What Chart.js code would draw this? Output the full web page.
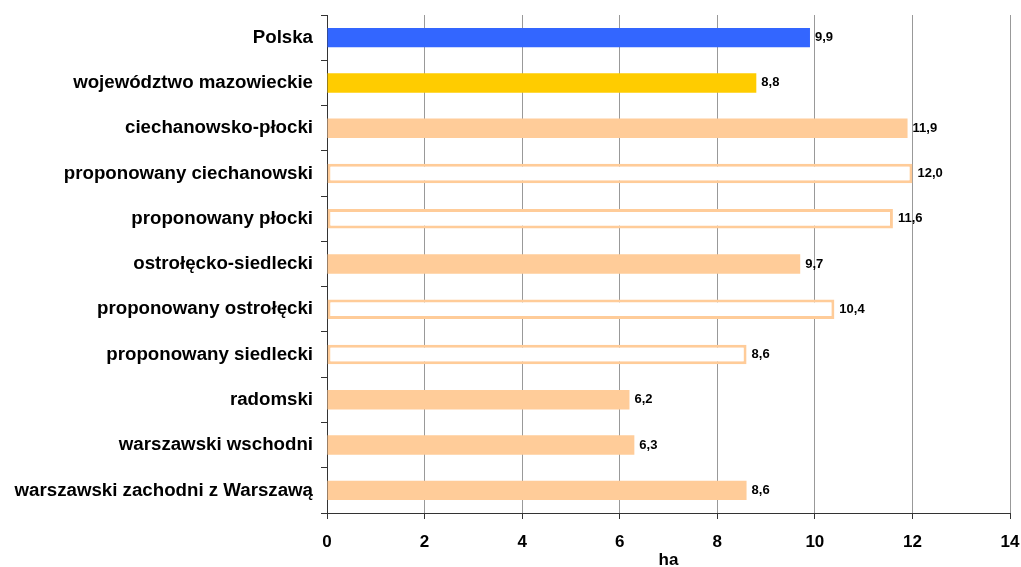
<!DOCTYPE html>
<html>
<head>
<meta charset="utf-8">
<script src="https://cdn.jsdelivr.net/npm/chart.js@4/dist/chart.umd.min.js"></script>
<style>
    html, body { margin: 0; padding: 0; background: #fff; }
    #wrap { width: 1021px; height: 567px; }
</style>
</head>
<body>
<div id="wrap"><canvas id="farm-chart" width="1021" height="567"></canvas></div>
<script>
    'use strict';

    // Average farm area (ha) per region
    const regions = [
        'Polska',
        'województwo mazowieckie',
        'ciechanowsko-płocki',
        'proponowany ciechanowski',
        'proponowany płocki',
        'ostrołęcko-siedlecki',
        'proponowany ostrołęcki',
        'proponowany siedlecki',
        'radomski',
        'warszawski wschodni',
        'warszawski zachodni z Warszawą'
    ];
    const areas = [9.9, 8.8, 11.9, 12.0, 11.6, 9.7, 10.4, 8.6, 6.2, 6.3, 8.6];
    // proposed regions are drawn as outlined bars
    const proposed = [false, false, false, true, true, false, true, true, false, false, false];
    const xTicks = [0, 2, 4, 6, 8, 10, 12, 14];

    const PEACH = '#FFCC99';
    const fills = areas.map(function(v, i) {
        if (i === 0) return '#3366FF';
        if (i === 1) return '#FFCC00';
        return proposed[i] ? '#FFFFFF' : PEACH;
    });
    const borders = areas.map(function(v, i) {
        return proposed[i] ? PEACH : fills[i];
    });
    const borderWidths = proposed.map(function(p) { return p ? 3 : 0; });

    // Value labels at the end of each bar, with a decimal comma
    const valueLabels = {
        id: 'valueLabels',
        afterDatasetsDraw: function(chart) {
            const ctx = chart.ctx;
            const meta = chart.getDatasetMeta(0);
            ctx.save();
            ctx.font = 'bold 13px "Liberation Sans", Arial, sans-serif';
            ctx.fillStyle = '#000';
            ctx.textAlign = 'left';
            ctx.textBaseline = 'middle';
            meta.data.forEach(function(bar, i) {
                ctx.fillText(areas[i].toFixed(1).replace('.', ','), bar.x + 5, bar.y);
            });
            ctx.restore();
        }
    };

    const family = '"Liberation Sans", Arial, sans-serif';
    const labelFont = { family: family, size: 18.7, weight: 'bold' };
    const tickFont = { family: family, size: 17, weight: 'bold' };

    new Chart(document.getElementById('farm-chart').getContext('2d'), {
        type: 'bar',
        data: {
            labels: regions,
            datasets: [{
                data: areas,
                backgroundColor: fills,
                borderColor: borders,
                borderWidth: borderWidths,
                borderSkipped: false,
                barPercentage: 0.43,
                categoryPercentage: 1
            }]
        },
        options: {
            indexAxis: 'y',
            responsive: false,
            animation: false,
            layout: { padding: { top: 15, right: 11, left: 0, bottom: 0 } },
            plugins: {
                legend: { display: false },
                tooltip: { enabled: false }
            },
            scales: {
                x: {
                    min: 0,
                    max: 14,
                    afterBuildTicks: function(scale) {
                        scale.ticks = xTicks.map(function(v) { return { value: v }; });
                    },
                    afterFit: function(scale) {
                        scale.height = 54;
                        scale.paddingLeft = 0;
                        scale.paddingRight = 0;
                    },
                    grid: {
                        color: '#999999',
                        lineWidth: 1,
                        tickLength: 6,
                        tickColor: '#333333'
                    },
                    border: { color: '#333333', width: 1 },
                    ticks: { color: '#000', font: tickFont, padding: 13, maxRotation: 0 },
                    title: {
                        display: true,
                        text: 'ha',
                        color: '#000',
                        font: tickFont,
                        padding: { top: 0, bottom: -4 }
                    }
                },
                y: {
                    afterFit: function(scale) {
                        scale.width = 327;
                        scale.paddingTop = 0;
                        scale.paddingBottom = 0;
                    },
                    grid: {
                        drawOnChartArea: false,
                        tickLength: 6,
                        tickColor: '#333333'
                    },
                    border: { color: '#333333', width: 1 },
                    ticks: { color: '#000', font: labelFont, padding: 8 }
                }
            }
        },
        plugins: [valueLabels]
    });
</script>
</body>
</html>
